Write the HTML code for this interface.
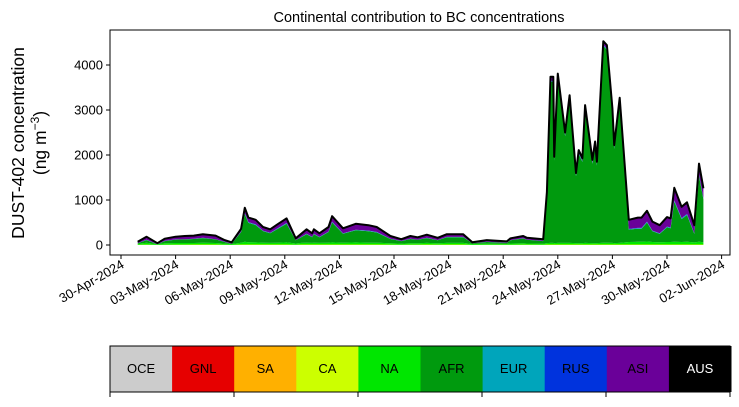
<!DOCTYPE html>
<html><head><meta charset="utf-8"><style>
body{margin:0;background:#fff;}
svg text{font-family:"Liberation Sans","DejaVu Sans",sans-serif;}
</style></head><body>
<svg id="chart" width="739" height="402" viewBox="0 0 739 402" xmlns="http://www.w3.org/2000/svg">
<text x="419" y="22" font-size="14.5" text-anchor="middle">Continental contribution to BC concentrations</text>
<g transform="translate(24,143) rotate(-90)">
<text x="0" y="0" font-size="17.5" text-anchor="middle">DUST-402 concentration</text>
<text x="0" y="22" font-size="17.5" text-anchor="middle">(ng m<tspan baseline-shift="super" font-size="12">−3</tspan>)</text>
</g>
<g id="plot"></g>
<g id="legend"></g>
</svg>
<script>
const days=[0.92,1.4,2.0,2.4,3.0,3.5,4.0,4.5,5.2,5.7,6.08,6.6,6.8,7.0,7.4,7.8,8.2,8.6,9.1,9.6,9.9,10.2,10.5,10.6,10.9,11.4,11.6,12.2,12.9,13.6,14.05,14.8,15.4,15.9,16.3,16.8,17.4,17.9,18.8,19.3,20.1,21.2,21.4,22.1,22.3,23.2,23.4,23.6,23.75,23.8,24.0,24.4,24.65,25.0,25.15,25.35,25.5,25.9,26.05,26.15,26.5,26.7,27.0,27.1,27.4,27.9,28.4,28.6,28.9,29.2,29.6,30.0,30.2,30.4,30.8,31.1,31.5,31.76,32.0];
const totalVals=[73,185,40,140,185,200,210,240,210,110,60,360,830,610,560,400,350,460,590,150,250,350,260,350,260,400,640,370,470,440,400,200,130,200,170,230,160,240,240,60,110,80,150,200,160,130,1180,3740,3740,1960,3810,2500,3330,1600,2110,1930,3110,1890,2300,1850,4530,4440,3040,2220,3270,560,610,610,760,520,440,620,590,1270,850,950,440,1810,1260];
const asiVals=[30,70,20,50,60,70,70,80,80,40,30,60,120,100,100,80,80,90,100,40,70,100,80,100,80,100,120,110,130,120,110,60,40,60,50,70,50,60,60,20,40,30,40,50,40,40,60,100,80,60,80,60,60,50,60,60,70,60,60,60,80,80,60,60,70,200,230,230,240,200,180,210,200,280,250,260,180,250,220];
const naVals=[25,40,15,30,35,35,35,40,35,25,20,40,60,50,45,40,35,40,45,25,35,40,35,40,35,40,45,40,45,40,40,30,25,30,30,35,30,35,35,20,25,20,25,30,25,25,30,35,35,30,35,35,35,30,30,30,35,30,30,30,40,40,35,30,35,55,60,60,65,55,50,55,55,60,55,60,45,60,50];
const yTicks=[0,1000,2000,3000,4000];
const xTickLabels=["30-Apr-2024","03-May-2024","06-May-2024","09-May-2024","12-May-2024","15-May-2024","18-May-2024","21-May-2024","24-May-2024","27-May-2024","30-May-2024","02-Jun-2024"];
const xTickDays=[0,3,6,9,12,15,18,21,24,27,30,33];
const regions=["OCE","GNL","SA","CA","NA","AFR","EUR","RUS","ASI","AUS"];
const regionColors=["#cccccc","#e60000","#ffb000","#ccff00","#00e600","#009a0e","#00a5bb","#0033dd","#6a0099","#000000"];

const NS="http://www.w3.org/2000/svg";
const L=110,R=730,T=30,B=255;
const xs=d=>121+d*18.2;
const ys=v=>245-v*0.045;
const plot=document.getElementById('plot');
function mk(tag,attrs,parent){const e=document.createElementNS(NS,tag);for(const k in attrs)e.setAttribute(k,attrs[k]);parent.appendChild(e);return e;}

// stacked layers: CA(small), NA, AFR, EUR, RUS, ASI
const n=days.length;
const caVals=days.map((d,i)=>Math.min(12,totalVals[i]*0.05));
const eurVals=days.map((d,i)=>Math.min(15,totalVals[i]*0.02));
const rusVals=days.map((d,i)=>Math.min(10,totalVals[i]*0.01));
const afrVals=days.map((d,i)=>Math.max(0,totalVals[i]-asiVals[i]-naVals[i]-caVals[i]-eurVals[i]-rusVals[i]));
const layers=[["CA",caVals,"#ccff00"],["NA",naVals,"#00e600"],["AFR",afrVals,"#009a0e"],["EUR",eurVals,"#00a5bb"],["RUS",rusVals,"#0033dd"],["ASI",asiVals,"#6a0099"]];
let base=new Array(n).fill(0);
layers.forEach(([name,vals,col])=>{
  const top=base.map((b,i)=>b+vals[i]);
  let d="M"+days.map((dd,i)=>xs(dd).toFixed(1)+","+ys(top[i]).toFixed(1)).join("L");
  for(let i=n-1;i>=0;i--)d+="L"+xs(days[i]).toFixed(1)+","+ys(base[i]).toFixed(1);
  d+="Z";
  const p=mk('path',{d:d,fill:col,stroke:'none'},plot);
  
  
  base=top;
});
const line=mk('path',{d:"M"+days.map((dd,i)=>xs(dd).toFixed(1)+","+ys(totalVals[i]).toFixed(1)).join("L"),fill:'none',stroke:'#000','stroke-width':2,'stroke-linejoin':'round'},plot);



const frame=mk('rect',{x:L,y:T,width:R-L,height:B-T,fill:'none',stroke:'#000','stroke-width':1},plot);



yTicks.forEach(v=>{
  const y=ys(v);
  const t=mk('line',{x1:L-4,x2:L,y1:y,y2:y,stroke:'#000'},plot);
  
  
  const tx=mk('text',{x:L-7,y:y+4.5,'font-size':13,'text-anchor':'end'},plot);
  tx.textContent=v;
  
  
});
xTickDays.forEach((d,i)=>{
  const x=xs(d);
  const t=mk('line',{x1:x,x2:x,y1:B,y2:B+4,stroke:'#000'},plot);
  
  
  const tx=mk('text',{x:0,y:0,'font-size':13,'text-anchor':'end',transform:`translate(${x+4},${B+12}) rotate(-30)`},plot);
  tx.textContent=xTickLabels[i];
  
  
});

// legend colorbar
const lg=document.getElementById('legend');
const bw=62.1;
regions.forEach((r,i)=>{
  const x=110+i*bw;
  const rc=mk('rect',{x:x,y:346,width:bw+0.5,height:46,fill:regionColors[i]},lg);
  
  
  const tx=mk('text',{x:x+bw/2,y:373,'font-size':13,'text-anchor':'middle',fill:r==="AUS"?"#fff":"#000"},lg);
  tx.textContent=r;
  
  
});
const lf=mk('rect',{x:110,y:346,width:620,height:46,fill:'none',stroke:'#000','stroke-width':1},lg);


[110,234,358,482,606,730].forEach(x=>{
  const t=mk('line',{x1:x,x2:x,y1:392,y2:397,stroke:'#000'},lg);
  
  
});
</script>
</body></html>
